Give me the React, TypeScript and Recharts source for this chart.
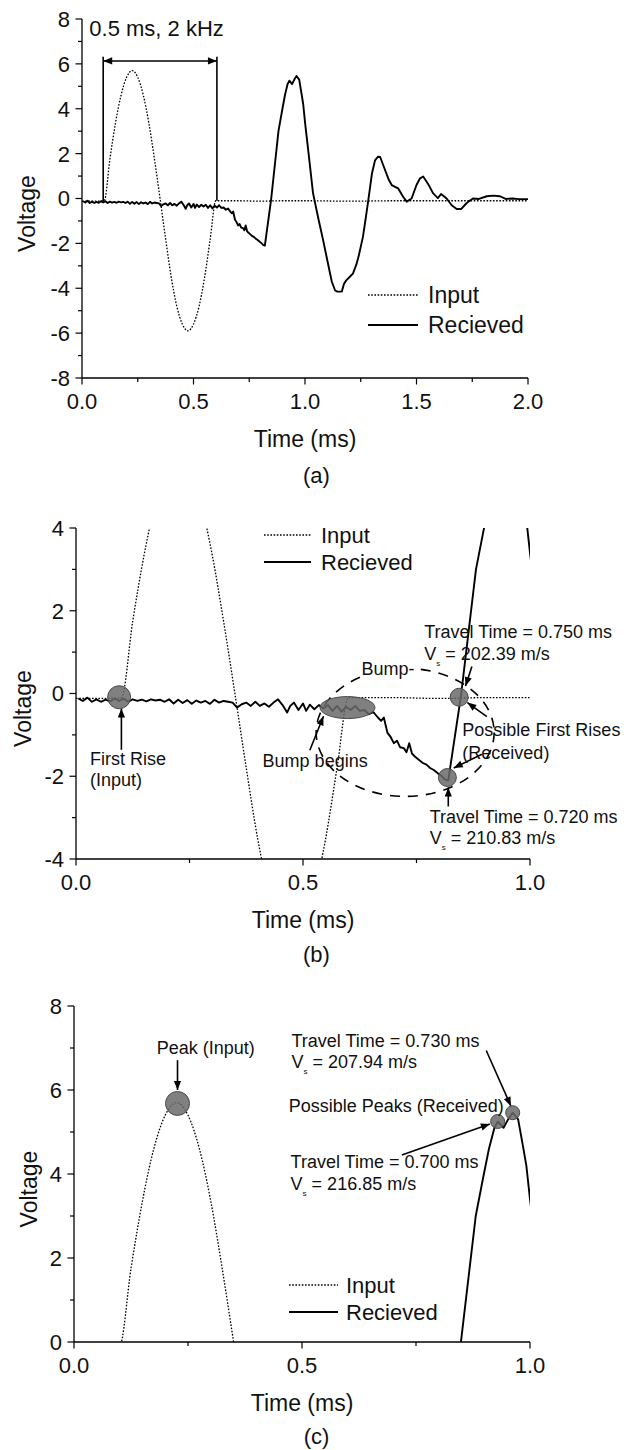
import React from "react";
import { LineChart, Line, XAxis, YAxis, Legend, Label, ReferenceDot, ReferenceLine } from "recharts";

const FONT = "'Liberation Sans', Arial, Helvetica, sans-serif";
const INK = "#111";
const SHADE = "#6a6a6a";

type Pt = [number, number];

// input pulse, one 2 kHz cycle (time ms, volts)
const inputPulse: Pt[] = [
  [0, -0.12], [0.05, -0.12], [0.1, -0.1], [0.125, 1.75], [0.15, 3.35], [0.175, 4.6], [0.2, 5.4],
  [0.225, 5.7], [0.25, 5.4], [0.275, 4.6], [0.3, 3.35], [0.325, 1.75], [0.35, 0],
  [0.375, -1.8], [0.4, -3.5], [0.425, -4.8], [0.45, -5.6], [0.475, -5.9], [0.5, -5.6],
  [0.525, -4.8], [0.55, -3.5], [0.575, -1.8], [0.6, -0.1],
];
const inputTail: Pt[] = [
  [0.7, -0.1], [0.8, -0.12], [0.9, -0.1], [1.0, -0.1], [1.2, -0.12], [1.4, -0.1], [1.6, -0.1], [1.8, -0.1], [2.0, -0.1],
];

// received signal: quiet part before the arrival
const receivedQuiet: Pt[] = [
  [0.005, -0.12], [0.015, -0.18], [0.025, -0.1], [0.035, -0.2], [0.045, -0.14], [0.055, -0.2], [0.065, -0.15],
  [0.075, -0.19], [0.085, -0.12], [0.095, -0.18], [0.105, -0.12], [0.115, -0.2], [0.125, -0.14], [0.135, -0.18],
  [0.145, -0.15], [0.155, -0.19], [0.165, -0.14], [0.175, -0.17], [0.185, -0.15], [0.195, -0.2], [0.205, -0.14],
  [0.215, -0.24], [0.225, -0.15], [0.235, -0.23], [0.245, -0.16], [0.255, -0.25], [0.265, -0.17], [0.275, -0.22],
  [0.285, -0.18], [0.295, -0.25], [0.305, -0.15], [0.315, -0.22], [0.325, -0.18], [0.335, -0.2], [0.345, -0.22],
  [0.355, -0.34], [0.365, -0.26], [0.375, -0.22], [0.385, -0.3], [0.395, -0.2], [0.405, -0.3], [0.415, -0.24],
  [0.425, -0.32], [0.435, -0.22], [0.445, -0.14], [0.455, -0.28], [0.465, -0.46], [0.472, -0.3], [0.48, -0.22],
  [0.49, -0.4], [0.5, -0.24], [0.507, -0.42], [0.515, -0.27], [0.525, -0.38], [0.535, -0.28], [0.545, -0.36],
  [0.555, -0.28], [0.565, -0.42], [0.575, -0.3], [0.585, -0.44], [0.595, -0.32], [0.605, -0.4], [0.615, -0.3],
  [0.625, -0.42],
];
// the bump, first rise and main peaks
const receivedArrival: Pt[] = [
  [0.635, -0.4], [0.645, -0.5], [0.655, -0.45], [0.665, -0.58], [0.672, -0.66], [0.678, -0.58], [0.686, -0.95],
  [0.693, -1.05], [0.7, -1.2], [0.707, -1.14], [0.714, -1.3], [0.722, -1.32], [0.728, -1.42], [0.734, -1.2],
  [0.74, -1.45], [0.747, -1.53], [0.755, -1.6], [0.764, -1.68], [0.772, -1.72], [0.78, -1.8], [0.788, -1.85],
  [0.797, -1.93], [0.806, -2.0], [0.813, -2.08], [0.82, -2.1], [0.848, -0.05], [0.881, 3.0], [0.897, 3.9],
  [0.91, 4.6], [0.922, 5.1], [0.93, 5.25], [0.942, 5.1], [0.952, 5.3], [0.962, 5.46], [0.974, 5.3],
  [0.984, 4.7], [0.992, 4.2], [1.0, 3.4], [1.015, 2.1], [1.036, 0.24],
];
// later oscillations
const receivedCoda: Pt[] = [
  [1.06, -0.9], [1.08, -1.8], [1.1, -2.75], [1.12, -3.7], [1.135, -4.1], [1.145, -4.15], [1.165, -4.15],
  [1.175, -3.8], [1.185, -3.65], [1.2, -3.5], [1.215, -3.35], [1.23, -2.95], [1.24, -2.6], [1.26, -1.7],
  [1.272, -0.9], [1.283, -0.14], [1.3, 1.1], [1.314, 1.7], [1.327, 1.86], [1.337, 1.85], [1.359, 1.27],
  [1.375, 0.85], [1.389, 0.6], [1.404, 0.52], [1.418, 0.45], [1.44, 0.08], [1.456, -0.14], [1.478, 0.0],
  [1.5, 0.6], [1.516, 0.9], [1.53, 0.98], [1.552, 0.65], [1.574, 0.24], [1.596, 0.02], [1.61, 0.2],
  [1.62, 0.12], [1.635, 0.0], [1.658, -0.3], [1.68, -0.47], [1.7, -0.47], [1.725, -0.2], [1.753, 0.0],
  [1.78, -0.02], [1.815, 0.1], [1.845, 0.13], [1.874, 0.1], [1.9, -0.02], [1.93, 0.0], [1.96, -0.03], [2.0, -0.03],
];

const inputData = [...inputPulse, ...inputTail].map(([t, v]) => ({ t, v }));
const receivedData = [...receivedQuiet, ...receivedArrival, ...receivedCoda].map(([t, v]) => ({ t, v }));

const SERIES_STYLE = [
  { name: "Input", width: 1.3, dash: "1.6 1.6" },
  { name: "Recieved", width: 1.9, dash: undefined as string | undefined },
];

type Note = { t: number; v: number; text: string; sub?: boolean; anchor?: string; size?: number; halo?: boolean };
type Arrow = { from: Pt; to: Pt; heads?: number };
type Blob = { t: number; v: number; rx: number; ry: number; dashed?: boolean };

// annotations (anchored in data units)
const NOTES_A: Note[] = [{ t: 0.033, v: 7.58, text: "0.5 ms, 2 kHz", size: 22 }];
const ARROWS_A: Arrow[] = [
  { from: [0.095, -0.15], to: [0.095, 6.32], heads: 0 },
  { from: [0.605, -0.1], to: [0.605, 6.32], heads: 0 },
  { from: [0.095, 6.13], to: [0.605, 6.13], heads: 2 },
];

const NOTES_B: Note[] = [
  { t: 0.031, v: -1.57, text: "First Rise" },
  { t: 0.031, v: -2.09, text: "(Input)" },
  { t: 0.411, v: -1.62, text: "Bump begins" },
  { t: 0.629, v: 0.61, text: "Bump-", halo: true },
  { t: 0.767, v: 1.49, text: "Travel Time = 0.750 ms" },
  { t: 0.767, v: 0.97, text: "202.39 m/s", sub: true },
  { t: 0.851, v: -0.88, text: "Possible First Rises" },
  { t: 0.851, v: -1.43, text: "(Received)" },
  { t: 0.779, v: -2.97, text: "Travel Time = 0.720 ms" },
  { t: 0.779, v: -3.49, text: "210.83 m/s", sub: true },
];
const ARROWS_B: Arrow[] = [
  { from: [0.1, -1.36], to: [0.1, -0.36] },
  { from: [0.515, -1.37], to: [0.545, -0.55] },
  { from: [0.872, 0.65], to: [0.858, 0.18] },
  { from: [0.905, -0.56], to: [0.862, -0.22] },
  { from: [0.894, -1.47], to: [0.832, -1.8] },
  { from: [0.82, -2.73], to: [0.82, -2.27] },
];
const BLOBS_B: Blob[] = [
  { t: 0.725, v: -0.94, rx: 89, ry: 64, dashed: true },
  { t: 0.095, v: -0.09, rx: 11.5, ry: 11.5 },
  { t: 0.598, v: -0.34, rx: 27.5, ry: 11 },
  { t: 0.844, v: -0.09, rx: 9, ry: 9 },
  { t: 0.818, v: -2.03, rx: 9, ry: 9 },
];

const NOTES_C: Note[] = [
  { t: 0.289, v: 7.0, text: "Peak (Input)", anchor: "middle" },
  { t: 0.477, v: 7.19, text: "Travel Time = 0.730 ms" },
  { t: 0.477, v: 6.67, text: "207.94 m/s", sub: true },
  { t: 0.471, v: 5.62, text: "Possible Peaks (Received)" },
  { t: 0.475, v: 4.29, text: "Travel Time = 0.700 ms" },
  { t: 0.475, v: 3.78, text: "216.85 m/s", sub: true },
];
const ARROWS_C: Arrow[] = [
  { from: [0.227, 6.71], to: [0.227, 6.0] },
  { from: [0.904, 6.94], to: [0.958, 5.62] },
  { from: [0.719, 4.45], to: [0.912, 5.19] },
];
const BLOBS_C: Blob[] = [
  { t: 0.227, v: 5.68, rx: 12, ry: 12 },
  { t: 0.929, v: 5.25, rx: 7, ry: 7 },
  { t: 0.962, v: 5.46, rx: 7, ry: 7 },
];

const X_MAJOR_LONG = [0, 0.5, 1, 1.5, 2];
const X_MINOR_LONG = [0.25, 0.75, 1.25, 1.75];
const X_MAJOR_SHORT = [0, 0.5, 1];
const X_MINOR_SHORT = [0.25, 0.75];
const Y_MAJOR_A = [-8, -6, -4, -2, 0, 2, 4, 6, 8];
const Y_MINOR_A = [-7, -5, -3, -1, 1, 3, 5, 7];
const Y_MAJOR_B = [-4, -2, 0, 2, 4];
const Y_MINOR_B = [-3, -1, 1, 3];
const Y_MAJOR_C = [0, 2, 4, 6, 8];
const Y_MINOR_C = [1, 3, 5, 7];

const XTick = ({ x, y, payload, majors }: any) => {
  const major = majors.includes(payload.value);
  return (
    <g>
      <line x1={x} x2={x} y1={y} y2={y + (major ? 6.5 : 4)} stroke="#000" strokeWidth={1.2} />
      {major && (
        <text x={x} y={y + 31} textAnchor="middle" fontSize={22} fontFamily={FONT} fill={INK}>
          {Number(payload.value).toFixed(1)}
        </text>
      )}
    </g>
  );
};

const YTick = ({ x, y, payload, majors }: any) => {
  const major = majors.includes(payload.value);
  return (
    <g>
      <line x1={x} x2={x - (major ? 6.5 : 4)} y1={y} y2={y} stroke="#000" strokeWidth={1.2} />
      {major && (
        <text x={x - 12} y={y} dy="0.36em" textAnchor="end" fontSize={22} fontFamily={FONT} fill={INK}>
          {payload.value}
        </text>
      )}
    </g>
  );
};

const xTitle = (props: any) => {
  const vb = props.viewBox || { x: 0, y: 0, width: 0 };
  return (
    <text x={vb.x + vb.width / 2} y={vb.y + 61} dy="0.36em" textAnchor="middle" fontSize={23} fontFamily={FONT} fill={INK}>
      Time (ms)
    </text>
  );
};

const yTitle = (gap: number) => (props: any) => {
  const vb = props.viewBox || { x: 0, y: 0, width: 0, height: 0 };
  const cx = vb.x + vb.width - gap;
  const cy = vb.y + vb.height / 2 + 15;
  return (
    <text x={cx} y={cy} dy="0.36em" transform={`rotate(-90 ${cx} ${cy})`} textAnchor="middle" fontSize={23} fontFamily={FONT} fill={INK}>
      Voltage
    </text>
  );
};

const head = (x1: number, y1: number, x2: number, y2: number) => {
  const a = Math.atan2(y2 - y1, x2 - x1);
  const L = 9;
  const W = 3.6;
  const bx = x2 - L * Math.cos(a);
  const by = y2 - L * Math.sin(a);
  return `${x2},${y2} ${bx + W * Math.sin(a)},${by - W * Math.cos(a)} ${bx - W * Math.sin(a)},${by + W * Math.cos(a)}`;
};

const renderArrow = (a: Arrow, i: number) => {
  const heads = a.heads ?? 1;
  return (
    <ReferenceLine
      key={`a${i}`}
      segment={[{ x: a.from[0], y: a.from[1] }, { x: a.to[0], y: a.to[1] }]}
      ifOverflow="visible"
      shape={(p: any) => (
        <g>
          <line x1={p.x1} y1={p.y1} x2={p.x2} y2={p.y2} stroke="#000" strokeWidth={1.6} />
          {heads >= 1 && <polygon points={head(p.x1, p.y1, p.x2, p.y2)} fill="#000" />}
          {heads >= 2 && <polygon points={head(p.x2, p.y2, p.x1, p.y1)} fill="#000" />}
        </g>
      )}
    />
  );
};

const renderBlob = (b: Blob, i: number) => (
  <ReferenceDot
    key={`b${i}`}
    x={b.t}
    y={b.v}
    r={1}
    ifOverflow="visible"
    shape={(p: any) =>
      b.dashed ? (
        <ellipse cx={p.cx} cy={p.cy} rx={b.rx} ry={b.ry} fill="none" stroke="#000" strokeWidth={1.6} strokeDasharray="10 8" />
      ) : (
        <ellipse cx={p.cx} cy={p.cy} rx={b.rx} ry={b.ry} fill={SHADE} fillOpacity={0.85} stroke="#4a4a4a" strokeWidth={1} />
      )
    }
  />
);

const renderNote = (n: Note, i: number) => (
  <ReferenceDot
    key={`n${i}`}
    x={n.t}
    y={n.v}
    r={1}
    ifOverflow="visible"
    shape={(p: any) => (
      <text
        x={p.cx}
        y={p.cy}
        dy="0.36em"
        textAnchor={n.anchor ?? "start"}
        fontSize={n.size ?? 18}
        fontFamily={FONT}
        fill={INK}
        stroke={n.halo ? "#fff" : "none"}
        strokeWidth={n.halo ? 5 : 0}
        paintOrder="stroke"
      >
        {n.sub ? (
          <>
            <tspan>V</tspan>
            <tspan fontSize={8} dy={6}>s</tspan>
            <tspan dy={-6}>{` = ${n.text}`}</tspan>
          </>
        ) : (
          n.text
        )}
      </text>
    )}
  />
);

const legendContent = (gap: number, lineW: number, textGap: number, size: number) => () => (
  <svg width={200} height={gap + 30} style={{ display: "block", overflow: "visible" }}>
    {SERIES_STYLE.map((s, i) => {
      const y = 14 + i * gap;
      return (
        <g key={s.name}>
          <line x1={0} x2={lineW} y1={y} y2={y} stroke="#000" strokeWidth={s.width} strokeDasharray={s.dash} />
          <text x={lineW + textGap} y={y} dy="0.36em" fontSize={size} fontFamily={FONT} fill={INK}>
            {s.name}
          </text>
        </g>
      );
    })}
  </svg>
);

type PanelProps = {
  top: number;
  height: number;
  margin: { top: number; right: number; bottom: number; left: number };
  xDomain: [number, number];
  yDomain: [number, number];
  xMajor: number[];
  xMinor: number[];
  yMajor: number[];
  yMinor: number[];
  yTitleGap: number;
  notes: Note[];
  arrows: Arrow[];
  blobs: Blob[];
  legend: { left: number; top: number; gap: number; lineW: number; textGap: number; size: number };
  caption: string;
  captionY: number;
};

function WavePanel(p: PanelProps) {
  const xTicks = [...p.xMajor, ...p.xMinor].sort((a, b) => a - b);
  const yTicks = [...p.yMajor, ...p.yMinor].sort((a, b) => a - b);
  return (
    <>
      <div style={{ position: "absolute", left: 0, top: p.top }}>
        <LineChart width={633} height={p.height} margin={p.margin} style={{ overflow: "visible" }}>
          <XAxis
            type="number"
            dataKey="t"
            domain={p.xDomain}
            ticks={xTicks}
            interval={0}
            allowDataOverflow
            height={75}
            tickSize={0}
            tickMargin={0}
            tickLine={false}
            axisLine={{ stroke: "#000", strokeWidth: 1.3 }}
            tick={(tp: any) => <XTick {...tp} majors={p.xMajor} />}
          >
            <Label content={xTitle} />
          </XAxis>
          <YAxis
            type="number"
            domain={p.yDomain}
            ticks={yTicks}
            interval={0}
            allowDataOverflow
            width={60}
            tickSize={0}
            tickMargin={0}
            tickLine={false}
            axisLine={{ stroke: "#000", strokeWidth: 1.3 }}
            tick={(tp: any) => <YTick {...tp} majors={p.yMajor} />}
          >
            <Label content={yTitle(p.yTitleGap)} />
          </YAxis>
          <Line
            data={inputData}
            dataKey="v"
            name={SERIES_STYLE[0].name}
            type="monotone"
            stroke="#000"
            strokeWidth={SERIES_STYLE[0].width}
            strokeDasharray={SERIES_STYLE[0].dash}
            dot={false}
            isAnimationActive={false}
          />
          <Line
            data={receivedData}
            dataKey="v"
            name={SERIES_STYLE[1].name}
            type="linear"
            stroke="#000"
            strokeWidth={SERIES_STYLE[1].width}
            strokeLinejoin="round"
            dot={false}
            isAnimationActive={false}
          />
          {p.blobs.map(renderBlob)}
          {p.arrows.map(renderArrow)}
          {p.notes.map(renderNote)}
          <Legend
            layout="vertical"
            align="center"
            verticalAlign="middle"
            content={legendContent(p.legend.gap, p.legend.lineW, p.legend.textGap, p.legend.size)}
            wrapperStyle={{ left: p.legend.left, top: p.legend.top, width: 200, height: p.legend.gap + 30 }}
          />
        </LineChart>
      </div>
      <div
        style={{
          position: "absolute",
          left: 0,
          top: p.captionY - 13,
          width: 633,
          height: 26,
          lineHeight: "26px",
          textAlign: "center",
          fontSize: 22,
          fontFamily: FONT,
          color: INK,
        }}
      >
        {p.caption}
      </div>
    </>
  );
}

export default function App() {
  return (
    <div style={{ position: "absolute", left: 0, top: 0, width: 633, height: 1450, background: "#fff" }}>
      <WavePanel
        top={0}
        height={460}
        margin={{ top: 19, right: 105, bottom: 7, left: 22 }}
        xDomain={[0, 2]}
        yDomain={[-8, 8]}
        xMajor={X_MAJOR_LONG}
        xMinor={X_MINOR_LONG}
        yMajor={Y_MAJOR_A}
        yMinor={Y_MINOR_A}
        yTitleGap={55}
        notes={NOTES_A}
        arrows={ARROWS_A}
        blobs={[]}
        legend={{ left: 368, top: 281, gap: 30, lineW: 50, textGap: 10, size: 23 }}
        caption="(a)"
        captionY={476}
      />
      <WavePanel
        top={500}
        height={440}
        margin={{ top: 28, right: 103, bottom: 6, left: 16 }}
        xDomain={[0, 1]}
        yDomain={[-4, 4]}
        xMajor={X_MAJOR_SHORT}
        xMinor={X_MINOR_SHORT}
        yMajor={Y_MAJOR_B}
        yMinor={Y_MINOR_B}
        yTitleGap={53}
        notes={NOTES_B}
        arrows={ARROWS_B}
        blobs={BLOBS_B}
        legend={{ left: 264, top: 21, gap: 27, lineW: 47, textGap: 10, size: 22 }}
        caption="(b)"
        captionY={955}
      />
      <WavePanel
        top={980}
        height={445}
        margin={{ top: 26, right: 103, bottom: 8, left: 14 }}
        xDomain={[0, 1]}
        yDomain={[0, 8]}
        xMajor={X_MAJOR_SHORT}
        xMinor={X_MINOR_SHORT}
        yMajor={Y_MAJOR_C}
        yMinor={Y_MINOR_C}
        yTitleGap={45}
        notes={NOTES_C}
        arrows={ARROWS_C}
        blobs={BLOBS_C}
        legend={{ left: 289, top: 291, gap: 27, lineW: 49, textGap: 8, size: 22 }}
        caption="(c)"
        captionY={1437}
      />
    </div>
  );
}
